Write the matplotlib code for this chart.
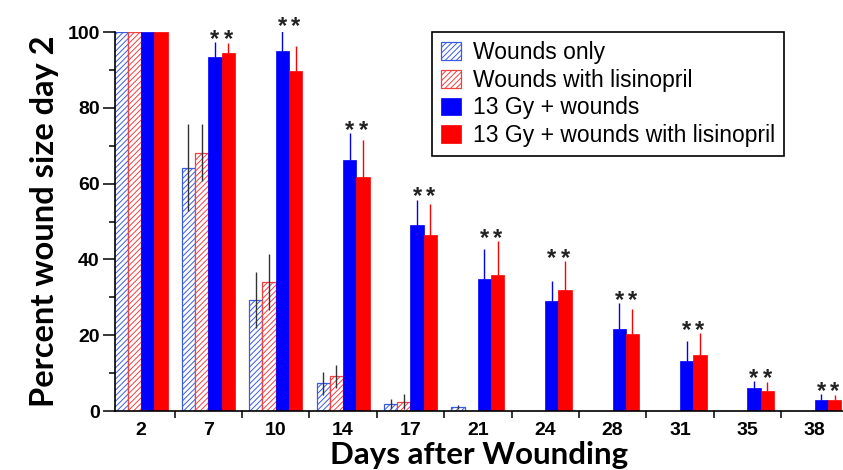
import numpy as np
import matplotlib
matplotlib.use("Agg")
import matplotlib.pyplot as plt

# Data (percent of wound size at day 2)
days = ["2", "7", "10", "14", "17", "21", "24", "28", "31", "35", "38"]

wounds_only = [100, 64.2, 29.3, 7.3, 1.9, 1.1, 0, 0, 0, 0, 0]
wounds_only_err = [0, 11.5, 7.3, 3.0, 1.3, 0.6, 0, 0, 0, 0, 0]

wounds_lis = [100, 68.2, 34.1, 9.2, 2.5, 0, 0, 0, 0, 0, 0]
wounds_lis_err = [0, 7.5, 7.4, 3.0, 2.0, 0, 0, 0, 0, 0, 0]

gy_wounds = [100, 93.5, 94.9, 66.3, 49.2, 34.7, 28.9, 21.6, 13.1, 6.0, 2.8]
gy_wounds_err = [0, 3.8, 5.9, 7.1, 6.6, 8.0, 5.5, 6.9, 5.3, 1.8, 1.7]

gy_wounds_lis = [100, 94.4, 89.6, 61.7, 46.5, 35.9, 31.8, 20.4, 14.8, 5.4, 2.8]
gy_wounds_lis_err = [0, 2.7, 6.6, 9.8, 8.2, 9.0, 7.7, 6.4, 5.7, 2.3, 1.4]

# groups marked with * (13 Gy groups vs. non-irradiated)
signif = [False, True, True, True, True, True, True, True, True, True, True]

BLUE = "#0000ff"
RED = "#ff0000"

plt.rcParams["hatch.linewidth"] = 0.7

fig = plt.figure(figsize=(8.43, 4.70), dpi=100)
ax = fig.add_axes([0.1364, 0.1255, 0.8636, 0.8064])

x = np.arange(len(days))
w = 0.197
offs = [-1.5 * w, -0.5 * w, 0.5 * w, 1.5 * w]

ax.bar(x + offs[0], wounds_only, w, color="white", edgecolor="#3a5ce0",
       hatch="//////", linewidth=0.9, label="Wounds only")
ax.bar(x + offs[1], wounds_lis, w, color="white", edgecolor="#f04040",
       hatch="//////", linewidth=0.9, label="Wounds with lisinopril")
ax.bar(x + offs[2], gy_wounds, w, color=BLUE, edgecolor=BLUE, linewidth=0.5,
       label="13 Gy + wounds")
ax.bar(x + offs[3], gy_wounds_lis, w, color=RED, edgecolor=RED, linewidth=0.5,
       label="13 Gy + wounds with lisinopril")

# error bars: symmetric for non-irradiated, upper only for irradiated
for i in range(len(days)):
    if wounds_only_err[i] > 0:
        ax.errorbar(x[i] + offs[0], wounds_only[i], yerr=wounds_only_err[i],
                    fmt="none", ecolor="#333333", elinewidth=1.0)
    if wounds_lis_err[i] > 0:
        ax.errorbar(x[i] + offs[1], wounds_lis[i], yerr=wounds_lis_err[i],
                    fmt="none", ecolor="#333333", elinewidth=1.0)
    if gy_wounds_err[i] > 0:
        ax.errorbar(x[i] + offs[2], gy_wounds[i],
                    yerr=[[0], [gy_wounds_err[i]]],
                    fmt="none", ecolor=BLUE, elinewidth=1.0)
    if gy_wounds_lis_err[i] > 0:
        ax.errorbar(x[i] + offs[3], gy_wounds_lis[i],
                    yerr=[[0], [gy_wounds_lis_err[i]]],
                    fmt="none", ecolor=RED, elinewidth=1.0)

# asterisks
for i in range(len(days)):
    if not signif[i]:
        continue
    top = max(gy_wounds[i] + gy_wounds_err[i], gy_wounds_lis[i] + gy_wounds_lis_err[i])
    for o in (offs[2], offs[3]):
        ax.text(x[i] + o, top - 1.0, "*", ha="center", va="baseline",
                family="Liberation Sans", fontsize=17, fontweight="bold",
                color="#222222", clip_on=False)

ax.set_xlim(-0.386, 10.42)
ax.set_ylim(0, 100)

ax.spines["top"].set_visible(False)
ax.spines["right"].set_visible(False)
ax.spines["left"].set_linewidth(1.2)
ax.spines["bottom"].set_linewidth(1.2)

tick_font = {"family": "Liberation Sans", "weight": "bold", "size": 14}
ax.set_yticks([0, 20, 40, 60, 80, 100])
ax.set_yticks([10, 30, 50, 70, 90], minor=True)
ax.set_yticklabels(["0", "20", "40", "60", "80", "100"], fontdict=tick_font)
ax.tick_params(axis="y", which="major", length=9, width=1.1, pad=2)
ax.tick_params(axis="y", which="minor", length=4, width=1.1)

ax.set_xticks(x)
ax.set_xticklabels(days, fontdict=tick_font)
ax.set_xticks(x[:-1] + 0.5, minor=True)
ax.tick_params(axis="x", which="major", length=0, pad=8)
ax.tick_params(axis="x", which="minor", length=5, width=1.1)

ax.set_ylabel("Percent wound size day 2",
              fontdict={"family": "Lato", "weight": "bold", "size": 23.5},
              labelpad=6)
ax.set_xlabel("Days after Wounding",
              fontdict={"family": "Lato", "weight": "bold", "size": 22.5},
              labelpad=1)

leg = ax.legend(loc="upper left", bbox_to_anchor=(0.435, 1.0), borderaxespad=0,
                prop={"family": "Liberation Sans", "size": 16.5},
                fancybox=False, edgecolor="black", framealpha=1,
                handlelength=0.9, handleheight=0.8, handletextpad=0.5,
                labelspacing=0.2, borderpad=0.4)
leg.get_frame().set_linewidth(1.2)

fig.savefig("out.png", dpi=100)
